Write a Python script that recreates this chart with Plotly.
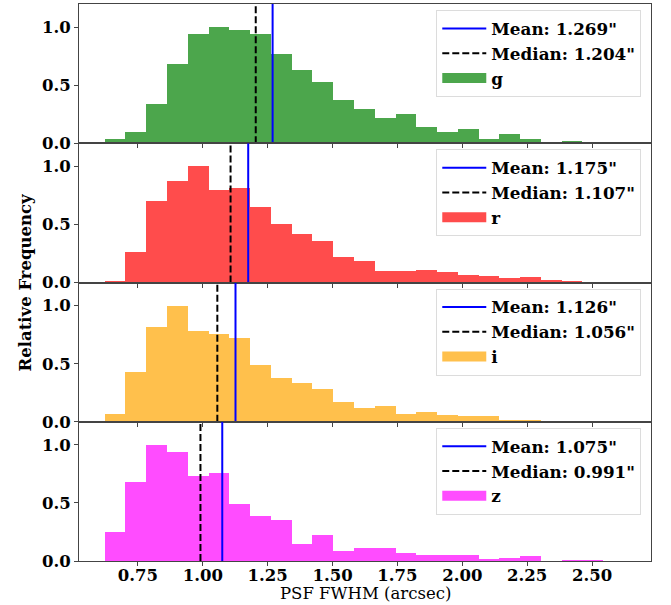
import numpy as np
import plotly.graph_objects as go
from plotly.subplots import make_subplots

# ---- data ----
bands = ["g", "r", "i", "z"]
bin_start = 0.622
bin_end = 2.623
n_bins = 25

g_freq = [0.035, 0.098, 0.341, 0.682, 0.945, 1.000, 0.980, 0.945, 0.769, 0.633,
          0.532, 0.376, 0.298, 0.220, 0.254, 0.142, 0.098, 0.127, 0.040, 0.078,
          0.040, 0.006, 0.017, 0.003, 0.003]
r_freq = [0.011, 0.261, 0.699, 0.874, 1.000, 0.794, 0.811, 0.645, 0.501, 0.415,
          0.352, 0.218, 0.181, 0.100, 0.095, 0.106, 0.086, 0.060, 0.054, 0.037,
          0.046, 0.020, 0.009, 0.0, 0.0]
i_freq = [0.072, 0.433, 0.817, 1.000, 0.788, 0.759, 0.725, 0.493, 0.378, 0.335,
          0.284, 0.172, 0.126, 0.140, 0.069, 0.092, 0.063, 0.052, 0.057, 0.023,
          0.023, 0.009, 0.0, 0.0, 0.0]
z_freq = [0.248, 0.680, 1.000, 0.945, 0.738, 0.761, 0.496, 0.386, 0.354, 0.153,
          0.228, 0.092, 0.112, 0.118, 0.075, 0.058, 0.058, 0.052, 0.017, 0.032,
          0.046, 0.0, 0.009, 0.012, 0.003]
freqs = [g_freq, r_freq, i_freq, z_freq]

means = [1.269, 1.175, 1.126, 1.075]
medians = [1.204, 1.107, 1.056, 0.991]
bar_colors = ["rgba(0,128,0,0.7)", "rgba(255,0,0,0.7)", "rgba(255,165,0,0.7)", "rgba(255,0,255,0.7)"]

x_ticks = [0.75, 1.00, 1.25, 1.50, 1.75, 2.00, 2.25, 2.50]
y_ticks = [0.0, 0.5, 1.0]

# ---- figure ----
edges = np.linspace(bin_start, bin_end, n_bins + 1)
centers = (edges[:-1] + edges[1:]) / 2
width = edges[1] - edges[0]

W, H = 671, 605
ml, mr, mt, mb = 79, 20, 4, 44
ph = H - mt - mb

fig = make_subplots(rows=4, cols=1, shared_xaxes=True, vertical_spacing=0)

serif = "DejaVu Serif"
for k in range(4):
    row = k + 1
    lg = "legend" if k == 0 else f"legend{k+1}"
    fig.add_trace(go.Bar(x=centers, y=freqs[k], width=width, name=bands[k],
                         marker=dict(color=bar_colors[k], line=dict(width=0)),
                         showlegend=False), row=row, col=1)
    fig.add_trace(go.Scatter(x=[means[k], means[k]], y=[0, 1.2], mode="lines",
                             line=dict(color="blue", width=2),
                             name=f'Mean: {means[k]:.3f}"', legend=lg, legendrank=1),
                  row=row, col=1)
    fig.add_trace(go.Scatter(x=[medians[k], medians[k]], y=[0, 1.2], mode="lines",
                             line=dict(color="black", width=2, dash="7px,3px"),
                             name=f'Median: {medians[k]:.3f}"', legend=lg, legendrank=2),
                  row=row, col=1)
    # legend proxy for the histogram patch
    fig.add_trace(go.Scatter(x=[None], y=[None], mode="lines",
                             line=dict(color=bar_colors[k], width=10),
                             name=bands[k], legend=lg, legendrank=3),
                  row=row, col=1)
    top_px = k * ph / 4 + 6
    fig.update_layout({lg: dict(x=0.983, y=1 - top_px / ph, xanchor="right", yanchor="top",
                                bgcolor="rgba(255,255,255,0.8)", bordercolor="#dcdcdc",
                                borderwidth=1, traceorder="normal", itemwidth=44,
                                font=dict(family=serif, size=16.8, color="black", weight="bold"))})

axis_common = dict(showline=True, linecolor="#444", linewidth=1, mirror=True,
                   showgrid=False, zeroline=False, ticks="outside", ticklen=4,
                   tickcolor="#444",
                   tickfont=dict(family=serif, size=16.5, color="black", weight="bold"))
for k in range(4):
    fig.update_xaxes(range=[0.523, 2.727], tickvals=x_ticks, tickformat=".2f",
                     ticklabelstandoff=-5, row=k + 1, col=1, **axis_common)
    fig.update_yaxes(range=[0, 1.2], tickvals=y_ticks, tickformat=".1f",
                     row=k + 1, col=1, **axis_common)

fig.add_annotation(text="Relative Frequency", xref="paper", yref="paper",
                   x=(25 - ml) / (W - ml - mr), y=0.5, xanchor="center", yanchor="middle",
                   textangle=-90, showarrow=False,
                   font=dict(family=serif, size=16.5, color="black", weight="bold"))
fig.add_annotation(text="PSF FWHM (arcsec)", xref="paper", yref="paper",
                   x=0.5, y=-(593 - (H - mb)) / ph, xanchor="center", yanchor="middle",
                   showarrow=False,
                   font=dict(family=serif, size=16.5, color="black"))

fig.update_layout(width=W, height=H, margin=dict(l=ml, r=mr, t=mt, b=mb),
                  plot_bgcolor="white", paper_bgcolor="white", bargap=0,
                  barmode="overlay")
fig.write_html("out.html")
